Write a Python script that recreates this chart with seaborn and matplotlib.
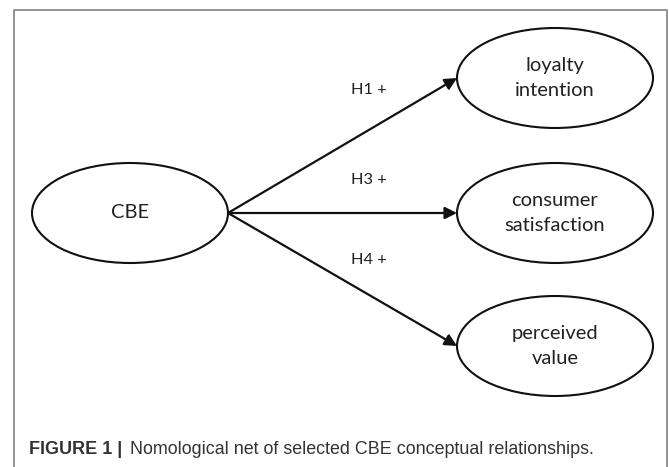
import seaborn as sns
import matplotlib.pyplot as plt
from matplotlib.patches import Ellipse

# nodes of the nomological net (pixel coordinates of the original figure)
node_names = ["CBE", "loyalty\nintention", "consumer\nsatisfaction", "perceived\nvalue"]
node_x = [130, 555, 555, 555]
node_y = [213, 78, 213, 346]

# hypotheses: from CBE to the outcome nodes
hyp_labels = ["H1 +", "H3 +", "H4 +"]
hyp_targets = [1, 2, 3]
hyp_label_x = [369, 369, 369]
hyp_label_y = [90, 180, 260]

caption_bold = "FIGURE 1 |"
caption_rest = "Nomological net of selected CBE conceptual relationships."

sns.set_theme(style="white")
plt.rcParams['font.family'] = ['Lato', 'DejaVu Sans']

fig = plt.figure(figsize=(6.69, 4.67), dpi=100)
ax = fig.add_axes([0, 0, 1, 1])
ax.set_xlim(0, 669)
ax.set_ylim(467, 0)
ax.axis('off')

# outer frame
ax.plot([14, 14, 667, 667], [470, 10, 10, 470], color='#8a8a8a', lw=1.3)

ew, eh = 196, 100
for name, x, y in zip(node_names, node_x, node_y):
    ax.add_patch(Ellipse((x, y), ew, eh, fill=False, ec='#111111', lw=1.5))
    ax.text(x, y, name, ha='center', va='center', fontsize=14.5,
            color='#222222', linespacing=1.6)

src_x = node_x[0] + ew / 2
src_y = node_y[0]
for lab, t, lx, ly in zip(hyp_labels, hyp_targets, hyp_label_x, hyp_label_y):
    end = (node_x[t] - ew / 2, node_y[t])
    ax.annotate("", xy=end, xytext=(src_x, src_y),
                arrowprops=dict(arrowstyle='-|>', color='#111111', lw=1.6,
                                mutation_scale=18, shrinkA=0, shrinkB=0))
    ax.text(lx, ly, lab, ha='center', va='center', fontsize=11.8, color='#222222')

cap_font = ['Liberation Sans Narrow', 'Liberation Sans']
ax.text(29, 449, caption_bold, ha='left', va='center', fontsize=13,
        fontweight='bold', color='#333333', family=cap_font)
ax.text(130, 449, caption_rest, ha='left', va='center', fontsize=12.9,
        color='#333333', family=cap_font)

fig.savefig('out.png', dpi=100)
